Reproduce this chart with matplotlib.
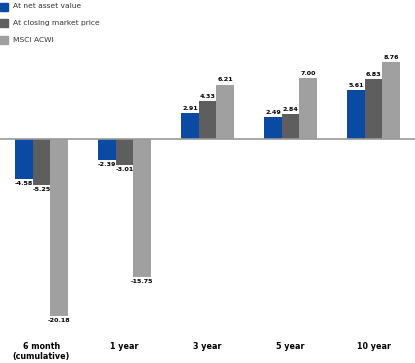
import numpy as np
import matplotlib
matplotlib.use('Agg')
import matplotlib.pyplot as plt
from matplotlib.patches import Rectangle

# Dados
categorias = ['6 month\n(cumulative)', '1 year', '3 year', '5 year', '10 year']
series = ['At net asset value', 'At closing market price', 'MSCI ACWI']
nav = [-4.58, -2.39, 2.91, 2.49, 5.61]
mercado = [-5.25, -3.01, 4.33, 2.84, 6.83]
msci = [-20.18, -15.75, 6.21, 7.00, 8.76]
cores = ['#0b4aa2', '#5e5e5e', '#a0a0a0']

plt.rcParams['font.family'] = ['Liberation Sans Narrow', 'DejaVu Sans']

W, H = 415, 363
fig = plt.figure(figsize=(W / 100, H / 100), dpi=100)
ax = fig.add_axes([0, (H - 330) / H, 1, 330 / H])

x = np.arange(len(categorias))
largura = 0.212
escala = 8.77  # px por unidade
ax.set_xlim(-0.5, 4.5)
ax.set_ylim(-(330 - 139) / escala, 139 / escala)

for i, (vals, cor) in enumerate(zip([nav, mercado, msci], cores)):
    pos = x + (i - 1) * largura
    ax.bar(pos, vals, width=largura, color=cor, zorder=2)
    for p, v in zip(pos, vals):
        ax.annotate(f'{v:.2f}', (p, v), xytext=(0, 1.5 if v > 0 else -1.5),
                    textcoords='offset points', ha='center',
                    va='bottom' if v > 0 else 'top',
                    fontsize=4.6, fontweight='bold')

ax.axhline(0, color='#999999', lw=1.2, zorder=3)

ax.set_xticks(x)
ax.set_xticklabels(categorias, fontsize=5.8, fontweight='bold', linespacing=1.2)
ax.tick_params(axis='x', length=0, pad=8.5)
ax.set_yticks([])
for s in ax.spines.values():
    s.set_visible(False)

# Legenda
for i, (nome, cor) in enumerate(zip(series, cores)):
    yc = 6.5 + i * 16.5
    fig.patches.append(Rectangle((0, 1 - (yc + 4) / H), 8 / W, 8 / H,
                                 transform=fig.transFigure, color=cor))
    fig.text(13 / W, 1 - yc / H, nome, fontsize=5.4, va='center', ha='left',
             color='#333333')

fig.savefig('out.png', dpi=100)
